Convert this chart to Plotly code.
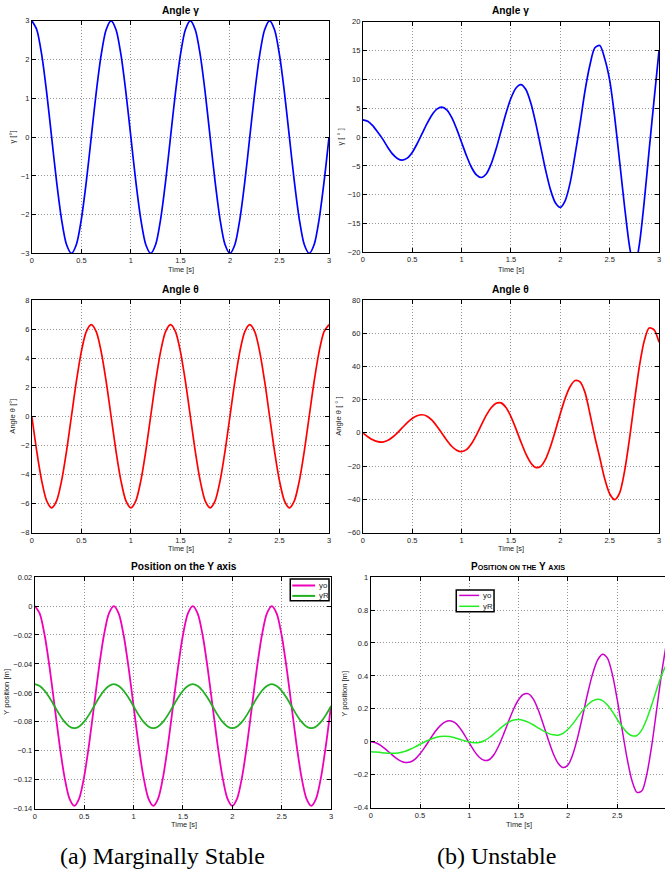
import plotly.graph_objects as go

W, H = 667, 882
FONT = "Liberation Sans, Arial, Helvetica, sans-serif"

# ---------------- data ----------------
time_s = [0.0, 0.05, 0.1, 0.15, 0.2, 0.25, 0.3, 0.35, 0.4, 0.45, 0.5, 0.55, 0.6, 0.65, 0.7, 0.75,
          0.8, 0.85, 0.9, 0.95, 1.0, 1.05, 1.1, 1.15, 1.2, 1.25, 1.3, 1.35, 1.4, 1.45, 1.5, 1.55,
          1.6, 1.65, 1.7, 1.75, 1.8, 1.85, 1.9, 1.95, 2.0, 2.05, 2.1, 2.15, 2.2, 2.25, 2.3, 2.35,
          2.4, 2.45, 2.5, 2.55, 2.6, 2.65, 2.7, 2.75, 2.8, 2.85, 2.9, 2.95, 3.0]

# (a) marginally stable
gamma_a = [3, 2.77, 2.12, 1.15, 0, -1.15, -2.12, -2.77, -3, -2.77, -2.12, -1.15, 0, 1.15, 2.12, 2.77,
           3, 2.77, 2.12, 1.15, 0, -1.15, -2.12, -2.77, -3, -2.77, -2.12, -1.15, 0, 1.15, 2.12, 2.77,
           3, 2.77, 2.12, 1.15, 0, -1.15, -2.12, -2.77, -3, -2.77, -2.12, -1.15, 0, 1.15, 2.12, 2.77,
           3, 2.77, 2.12, 1.15, 0, -1.15, -2.12, -2.77, -3, -2.77, -2.12, -1.15, 0]
theta_a = [0, -2.41, -4.45, -5.82, -6.3, -5.82, -4.45, -2.41, 0, 2.41, 4.45, 5.82, 6.3, 5.82, 4.45, 2.41,
           0, -2.41, -4.45, -5.82, -6.3, -5.82, -4.45, -2.41, 0, 2.41, 4.45, 5.82, 6.3, 5.82, 4.45, 2.41,
           0, -2.41, -4.45, -5.82, -6.3, -5.82, -4.45, -2.41, 0, 2.41, 4.45, 5.82, 6.3, 5.82, 4.45, 2.41,
           0, -2.41, -4.45, -5.82, -6.3, -5.82, -4.45, -2.41, 0, 2.41, 4.45, 5.82, 6.3]
yo_a = [0, -0.0052, -0.0202, -0.0426, -0.069, -0.0954, -0.1178, -0.1328, -0.138, -0.1328, -0.1178,
        -0.0954, -0.069, -0.0426, -0.0202, -0.0052,
        0, -0.0052, -0.0202, -0.0426, -0.069, -0.0954, -0.1178, -0.1328, -0.138, -0.1328, -0.1178,
        -0.0954, -0.069, -0.0426, -0.0202, -0.0052,
        0, -0.0052, -0.0202, -0.0426, -0.069, -0.0954, -0.1178, -0.1328, -0.138, -0.1328, -0.1178,
        -0.0954, -0.069, -0.0426, -0.0202, -0.0052,
        0, -0.0052, -0.0202, -0.0426, -0.069, -0.0954, -0.1178, -0.1328, -0.138, -0.1328, -0.1178,
        -0.0954, -0.069]
yR_a = [-0.054, -0.0552, -0.0585, -0.0634, -0.0692, -0.075, -0.0799, -0.0832, -0.0844, -0.0832, -0.0799,
        -0.075, -0.0692, -0.0634, -0.0585, -0.0552,
        -0.054, -0.0552, -0.0585, -0.0634, -0.0692, -0.075, -0.0799, -0.0832, -0.0844, -0.0832, -0.0799,
        -0.075, -0.0692, -0.0634, -0.0585, -0.0552,
        -0.054, -0.0552, -0.0585, -0.0634, -0.0692, -0.075, -0.0799, -0.0832, -0.0844, -0.0832, -0.0799,
        -0.075, -0.0692, -0.0634, -0.0585, -0.0552,
        -0.054, -0.0552, -0.0585, -0.0634, -0.0692, -0.075, -0.0799, -0.0832, -0.0844, -0.0832, -0.0799,
        -0.075, -0.0692]

# (b) unstable
gamma_b = [3.0, 2.75, 2.0, 0.9, -0.3, -1.7, -2.9, -3.7, -4.0, -3.65, -2.65, -1.15, 0.6, 2.35, 3.85, 4.85,
           5.2, 4.74, 3.42, 1.43, -0.9, -3.23, -5.22, -6.54, -7.0, -6.39, -4.65, -2.03, 1.05, 4.13, 6.75, 8.49,
           9.1, 8.29, 5.99, 2.52, -1.55, -5.62, -9.09, -11.39, -12.2, -11.0, -7.9, -3.0, 2.3, 8.0, 12.5, 15.5,
           15.9, 13.6, 9.9, 3.6, -4.1, -11.9, -18.8, -23.0, -18.7, -11.2, -2.2, 6.5, 15.0]
theta_b = [0, -2.3, -4.2, -5.3, -5.55, -4.6, -2.66, 0.04, 3.13, 6.13, 8.64, 10.32, 10.9, 10.06, 7.66, 4.04,
           -0.2, -4.44, -8.06, -10.46, -11.3, -10.06, -6.53, -1.3, 4.71, 10.54, 15.16, 17.86, 18.05, 15.27, 9.81, 2.58,
           -5.28, -12.51, -17.97, -20.76, -20.26, -15.98, -8.38, 1.28, 11.58, 20.92, 27.89, 31.48, 30.72, 24.38, 11.5, -2.5,
           -15.0, -27.74, -36.67, -40.2, -36.26, -23.4, -3.9, 18.49, 39.65, 55.31, 63.08, 62.0, 54.5]
yo_b = [0, -0.0055, -0.0214, -0.0445, -0.0709, -0.096, -0.1153, -0.1251, -0.123, -0.1049, -0.0729, -0.031,
        0.015, 0.0592, 0.0955, 0.1196, 0.128, 0.1174, 0.0869, 0.0426, -0.0082, -0.0564, -0.0934, -0.1123,
        -0.1087, -0.0769, -0.0206, 0.0512, 0.1288, 0.201, 0.2569, 0.2887, 0.2908, 0.2575, 0.1916, 0.1055,
        0.013, -0.0704, -0.1299, -0.1561, -0.1404, -0.0742, 0.0314, 0.1611, 0.295, 0.4123, 0.4957, 0.5316,
        0.5076, 0.4093, 0.2543, 0.0722, -0.1023, -0.2378, -0.3072, -0.297, -0.195, -0.02, 0.198, 0.419, 0.605]
yR_b = [-0.06, -0.062, -0.065, -0.068, -0.0695, -0.0696, -0.0654, -0.0569, -0.0449, -0.0304, -0.0149, 0.0005,
        0.0141, 0.0248, 0.0316, 0.034, 0.0316, 0.0251, 0.016, 0.0064, -0.0015, -0.0056, -0.0043, 0.0063,
        0.0247, 0.0488, 0.0749, 0.0998, 0.1196, 0.1319, 0.1349, 0.1299, 0.1184, 0.1022, 0.0838, 0.0659,
        0.0514, 0.0423, 0.0403, 0.0511, 0.0758, 0.1106, 0.1512, 0.1913, 0.2253, 0.2486, 0.258, 0.2499,
        0.2235, 0.1834, 0.1364, 0.0913, 0.056, 0.0364, 0.0386, 0.0742, 0.1401, 0.2262, 0.3198, 0.4059, 0.4718]

legend_names = ["yo", "yR"]

# tick labels
x_ticks = [0, 0.5, 1, 1.5, 2, 2.5, 3]
x_ticktext = ["0", "0.5", "1", "1.5", "2", "2.5", "3"]
gamma_a_ticks = [-3, -2, -1, 0, 1, 2, 3]
gamma_a_ticktext = ["\u22123", "\u22122", "\u22121", "0", "1", "2", "3"]
gamma_b_ticks = [-20, -15, -10, -5, 0, 5, 10, 15, 20]
gamma_b_ticktext = ["\u221220", "\u221215", "\u221210", "\u22125", "0", "5", "10", "15", "20"]
theta_a_ticks = [-8, -6, -4, -2, 0, 2, 4, 6, 8]
theta_a_ticktext = ["\u22128", "\u22126", "\u22124", "\u22122", "0", "2", "4", "6", "8"]
theta_b_ticks = [-60, -40, -20, 0, 20, 40, 60, 80]
theta_b_ticktext = ["\u221260", "\u221240", "\u221220", "0", "20", "40", "60", "80"]
ypos_a_ticks = [-0.14, -0.12, -0.1, -0.08, -0.06, -0.04, -0.02, 0, 0.02]
ypos_a_ticktext = ["\u22120.14", "\u22120.12", "\u22120.1", "\u22120.08", "\u22120.06", "\u22120.04",
                   "\u22120.02", "0", "0.02"]
ypos_b_ticks = [-0.4, -0.2, 0, 0.2, 0.4, 0.6, 0.8, 1]
ypos_b_ticktext = ["\u22120.4", "\u22120.2", "0", "0.2", "0.4", "0.6", "0.8", "1"]

# ---------------- layout helpers ----------------
def dx(px):
    return px / W

def dy(py):
    return 1 - py / H

# plot boxes in pixels: (left, top, right, bottom)
boxes = {
    1: (30, 17, 329, 252),
    2: (363, 18, 661, 251),
    3: (30, 299, 329, 534),
    4: (363, 299, 661, 534),
    5: (33, 579, 331, 813),
    6: (371, 579, 667, 812),
}

COL = {"gamma": "#0000ff", "theta": "#ff0000",
       "yo_a": "#f000b8", "yR_a": "#22b022", "yo_b": "#cc00cc", "yR_b": "#22ee22"}

fig = go.Figure()

def add_line(i, y, color, width, name):
    suffix = "" if i == 1 else str(i)
    fig.add_trace(go.Scatter(
        x=time_s, y=y, mode="lines", line=dict(color=color, width=width, shape="spline", smoothing=0.8),
        xaxis="x" + suffix, yaxis="y" + suffix, name=name, showlegend=False, hoverinfo="skip"))

add_line(1, gamma_a, COL["gamma"], 1.7, "gamma")
add_line(2, gamma_b, COL["gamma"], 1.7, "gamma")
add_line(3, theta_a, COL["theta"], 1.7, "theta")
add_line(4, theta_b, COL["theta"], 1.7, "theta")
add_line(5, yo_a, COL["yo_a"], 1.8, legend_names[0])
add_line(5, yR_a, COL["yR_a"], 1.8, legend_names[1])
add_line(6, yo_b, COL["yo_b"], 1.5, legend_names[0])
add_line(6, yR_b, COL["yR_b"], 1.5, legend_names[1])

tickfont = dict(size=7.5, color="#222", family=FONT)
yspecs = {
    1: ([-3, 3], gamma_a_ticks, gamma_a_ticktext),
    2: ([-20, 20], gamma_b_ticks, gamma_b_ticktext),
    3: ([-8, 8], theta_a_ticks, theta_a_ticktext),
    4: ([-60, 80], theta_b_ticks, theta_b_ticktext),
    5: ([-0.14, 0.02], ypos_a_ticks, ypos_a_ticktext),
    6: ([-0.4, 1], ypos_b_ticks, ypos_b_ticktext),
}

layout = dict(
    width=W, height=H, margin=dict(l=0, r=0, t=0, b=0),
    paper_bgcolor="white", plot_bgcolor="white",
    font=dict(family=FONT, color="#222"), showlegend=False,
)

for i, (l, t, r, b) in boxes.items():
    suffix = "" if i == 1 else str(i)
    common = dict(showline=True, linecolor="black", linewidth=1, ticks="inside", ticklen=4,
                  tickcolor="black", tickwidth=1, showgrid=True, gridcolor="#959595", griddash="1px,2px",
                  gridwidth=1, zeroline=False, tickfont=tickfont, fixedrange=True)
    xr = [0, 3] if i != 6 else [0, (r - l) / 99.2]
    layout["xaxis" + suffix] = dict(common, domain=[dx(l), dx(r)], range=xr, anchor="y" + suffix,
                                    tickvals=x_ticks, ticktext=x_ticktext, mirror="ticks")
    yr, yt, ytt = yspecs[i]
    layout["yaxis" + suffix] = dict(common, domain=[dy(b), dy(t)], range=yr, anchor="x" + suffix,
                                    tickvals=yt, ticktext=ytt, mirror=("ticks" if i != 6 else False))

ann = []
shapes = []

def text(x, y, s, size, bold=False, angle=0, family=FONT, color="#222", xanchor="center"):
    ann.append(dict(x=dx(x), y=dy(y), xref="paper", yref="paper", text=("<b>%s</b>" % s) if bold else s,
                    showarrow=False, textangle=angle, xanchor=xanchor, yanchor="middle",
                    font=dict(size=size, family=family, color=color)))

# subplot titles
text(180, 7, "Angle \u03b3", 10.2, bold=True, color="black")
text(512, 7, "Angle \u03b3", 10.2, bold=True, color="black")
text(180, 288, "Angle \u03b8", 10.2, bold=True, color="black")
text(512, 288, "Angle \u03b8", 10.2, bold=True, color="black")
text(183, 568, "Position on the Y axis", 10.2, bold=True, color="black")
sc = "<span style='font-size:7.2px'>%s</span>"
text(519, 568, "P" + sc % "OSITION ON THE" + " Y " + sc % "AXIS", 10, bold=True, color="black")

# x titles
for (x, y) in [(180, 268.5), (512, 268.5), (180, 550), (512, 550), (183, 829), (520, 829)]:
    text(x, y, "Time [s]", 7.4)

# y titles
text(11, 134, "\u03b3 [\u00b0]", 7.6, angle=-90)
text(341, 134, "\u03b3 [ \u00b0 ]", 7.6, angle=-90)
text(11, 416, "Angle \u03b8 [\u00b0]", 7.6, angle=-90)
text(339, 416, "Angle \u03b8 [ \u00b0 ]", 7.6, angle=-90)
text(5, 695, "Y position [m]", 7.6, angle=-90)
text(345, 697, "Y position [m]", 7.6, angle=-90)

# legends (boxes drawn as in the reference)
def legend_box(l, t, r, b, rows, line_x0, line_x1, colors, width):
    shapes.append(dict(type="rect", xref="paper", yref="paper", x0=dx(l), x1=dx(r), y0=dy(b), y1=dy(t),
                       line=dict(color="black", width=1.5), fillcolor="white", layer="above"))
    for yy, c, nm in zip(rows, colors, legend_names):
        shapes.append(dict(type="line", xref="paper", yref="paper", x0=dx(line_x0), x1=dx(line_x1),
                           y0=dy(yy), y1=dy(yy), line=dict(color=c, width=width), layer="above"))
        text(line_x1 + 2, yy, nm, 7.8, xanchor="left")

legend_box(290, 581, 329, 603, [587.5, 598], 292, 315, [COL["yo_a"], COL["yR_a"]], 2)
legend_box(457, 592, 495, 614, [597.5, 608.5], 460, 480, [COL["yo_b"], COL["yR_b"]], 1.5)

# captions
SERIF = "Liberation Serif, Times New Roman, serif"
text(161, 861, "(a) Marginally Stable", 24, family=SERIF, color="black")
text(497, 861, "(b) Unstable", 24, family=SERIF, color="black")

layout["annotations"] = ann
layout["shapes"] = shapes
fig.update_layout(**layout)

fig.write_html("out.html", config={"displayModeBar": False, "staticPlot": True},
               post_script="document.body.style.margin='0px';")
